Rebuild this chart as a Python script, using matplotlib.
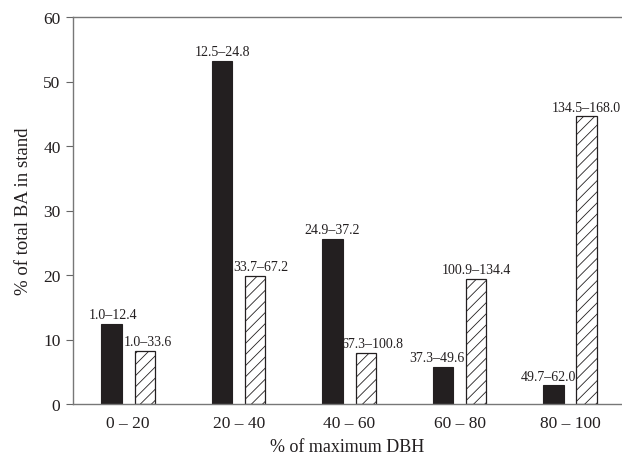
import matplotlib
matplotlib.use("Agg")
import matplotlib.pyplot as plt
import numpy as np

categories = ["0 – 20", "20 – 40", "40 – 60", "60 – 80", "80 – 100"]
solid_values = [12.4, 53.2, 25.6, 5.8, 2.9]
hatched_values = [8.2, 19.9, 7.9, 19.4, 44.6]
solid_labels = ["1.0–12.4", "12.5–24.8", "24.9–37.2", "37.3–49.6", "49.7–62.0"]
hatched_labels = ["1.0–33.6", "33.7–67.2", "67.3–100.8", "100.9–134.4", "134.5–168.0"]
yticks = [0, 10, 20, 30, 40, 50, 60]

# horizontal nudges of the value labels (pixels), as placed in the original
solid_nudge = [1, 0, 0, -6, -5]
hatched_nudge = [3, 6, 7, 0, 0]

plt.rcParams['font.family'] = ['Liberation Serif', 'DejaVu Serif']
plt.rcParams['hatch.linewidth'] = 0.6

fig = plt.figure(figsize=(6.22, 4.56), dpi=100)
ax = fig.add_axes([73/622, 1 - 405/456, 1 - 73/622, (405 - 18)/456])

x = np.arange(len(categories))
w = 0.185
off = 0.15
ax.bar(x - off, solid_values, width=w, color='#231f20', edgecolor='#231f20', linewidth=0.8)
ax.bar(x + off, hatched_values, width=w, color='white', edgecolor='#231f20',
       linewidth=0.9, hatch='///')

for xi, v, t, n in zip(x - off, solid_values, solid_labels, solid_nudge):
    ax.annotate(t, (xi, v), xytext=(n * 0.72, 2), textcoords='offset points',
                ha='center', va='bottom', fontsize=10, color='#231f20')
for xi, v, t, n in zip(x + off, hatched_values, hatched_labels, hatched_nudge):
    ax.annotate(t, (xi, v), xytext=(n * 0.72, 2), textcoords='offset points',
                ha='center', va='bottom', fontsize=10, color='#231f20')

ax.set_xlim(-0.5, 4.47)
ax.set_ylim(0, 60)
ax.set_yticks(yticks)
ax.set_xticks(x)
ax.set_xticklabels(categories)
ax.tick_params(axis='x', length=0, pad=8, labelsize=12.5, colors='#231f20')
ax.tick_params(axis='y', length=5, width=0.8, direction='out', pad=4, labelsize=12.5,
               color='#666666', labelcolor='#231f20')

for s in ['left', 'top', 'bottom']:
    ax.spines[s].set_color('#777777')
    ax.spines[s].set_linewidth(1.0)
ax.spines['right'].set_visible(False)

ax.set_xlabel("% of maximum DBH", fontsize=13, labelpad=5, color='#231f20')
ax.set_ylabel("% of total BA in stand", fontsize=13.5, labelpad=8, color='#231f20')

fig.savefig("out.png", dpi=100)
